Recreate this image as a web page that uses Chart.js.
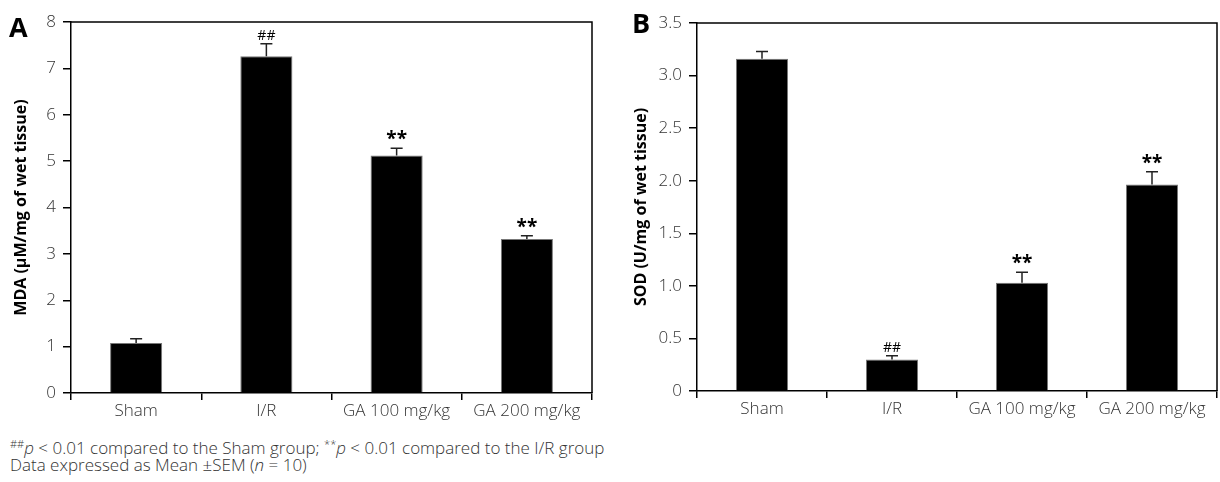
<!DOCTYPE html>
<html>
<head>
<meta charset="utf-8">
<script src="https://cdn.jsdelivr.net/npm/chart.js@4.4.1/dist/chart.umd.min.js"></script>
<style>
  html, body { margin: 0; padding: 0; background: #fff; }
  body { width: 1220px; height: 482px; position: relative; overflow: hidden; font-family: "Open Sans", sans-serif; }
  .panel { position: absolute; top: 0; width: 600px; height: 420px; }
  .tag { position: absolute; font-family: "Open Sans", sans-serif; font-weight: 700; font-size: 27px; line-height: 1; color: #000; }
  .note { position: absolute; left: 10px; top: 439px; font-size: 17px; line-height: 17px; color: #333; font-weight: 300; white-space: nowrap; }
  .note sup { font-size: 11px; vertical-align: 6px; line-height: 0; }
</style>
</head>
<body>
<div class="panel" style="left:0"><canvas id="chartA"></canvas></div>
<div class="panel" style="left:620px"><canvas id="chartB"></canvas></div>
<div class="tag" style="left:9px; top:13px">A</div>
<div class="tag" style="left:632px; top:9px">B</div>
<div class="note">
  <sup>##</sup><i>p</i> &lt; 0.01 compared to the Sham group; <sup>**</sup><i>p</i> &lt; 0.01 compared to the I/R group<br>
  Data expressed as Mean ±SEM (<i>n</i> = 10)
</div>
<script>
// groups on the x axis
const groups = ['Sham', 'I/R', 'GA 100 mg/kg', 'GA 200 mg/kg'];

// panel A: MDA
const mdaMean = [1.08, 7.26, 5.12, 3.32];
const mdaSem  = [0.09, 0.27, 0.16, 0.07];
const mdaMarks = ['', '##', '**', '**'];

// panel B: SOD
const sodMean = [3.16, 0.30, 1.03, 1.965];
const sodSem  = [0.07, 0.035, 0.10, 0.12];
const sodMarks = ['', '##', '**', '**'];

const tickFont = { family: 'Open Sans', size: 17, weight: '300' };

// error bars + significance marks above each bar
const errorBars = {
  id: 'errorBars',
  afterDatasetsDraw(chart, args, opts) {
    const ctx = chart.ctx;
    const y = chart.scales.y;
    const meta = chart.getDatasetMeta(0);
    ctx.save();
    meta.data.forEach((bar, i) => {
      const top = y.getPixelForValue(opts.mean[i]);
      const capY = y.getPixelForValue(opts.mean[i] + opts.sem[i]);
      ctx.strokeStyle = '#222';
      ctx.lineWidth = 1.5;
      ctx.beginPath();
      ctx.moveTo(bar.x, top);
      ctx.lineTo(bar.x, capY);
      ctx.moveTo(bar.x - 6, capY);
      ctx.lineTo(bar.x + 6, capY);
      ctx.stroke();
      const m = opts.marks[i];
      if (m) {
        ctx.fillStyle = '#000';
        ctx.textAlign = 'center';
        ctx.textBaseline = 'alphabetic';
        if (m === '**') {
          ctx.font = 'bold 19px "Open Sans"';
          ctx.fillText(m, bar.x, capY - 3);
        } else {
          ctx.font = '14px "Open Sans"';
          ctx.fillText(m, bar.x, capY - 4);
        }
      }
    });
    ctx.restore();
  }
};

// thin frame round the plot area (top and right sides)
const frame = {
  id: 'frame',
  afterDraw(chart) {
    const a = chart.chartArea, ctx = chart.ctx;
    ctx.save();
    ctx.strokeStyle = '#000';
    ctx.lineWidth = 1.5;
    ctx.beginPath();
    ctx.moveTo(a.left, a.top);
    ctx.lineTo(a.right, a.top);
    ctx.lineTo(a.right, a.bottom);
    ctx.stroke();
    ctx.restore();
  }
};

function makeChart(id, mean, sem, marks, opt) {
  return new Chart(document.getElementById(id), {
    type: 'bar',
    data: {
      labels: groups,
      datasets: [{
        data: mean,
        backgroundColor: '#000',
        borderColor: '#777',
        borderWidth: 1,
        categoryPercentage: 1,
        barPercentage: 0.4
      }]
    },
    options: {
      responsive: false,
      animation: false,
      events: [],
      layout: { padding: { top: opt.top, right: opt.right, left: 0, bottom: 0 } },
      plugins: {
        legend: { display: false },
        tooltip: { enabled: false },
        errorBars: { mean: mean, sem: sem, marks: marks }
      },
      scales: {
        x: {
          grid: { offset: true, drawOnChartArea: false, drawTicks: true, tickLength: 7, color: '#000', lineWidth: 1.5 },
          border: { color: '#000', width: 1.5 },
          ticks: { font: tickFont, color: '#333', padding: 1 },
          afterFit(s) { s.height = opt.xh; }
        },
        y: {
          min: 0, max: opt.max,
          ticks: {
            stepSize: opt.step, font: tickFont, color: '#333', padding: 7,
            callback: opt.fmt
          },
          grid: { drawOnChartArea: false, drawTicks: true, tickLength: 8, color: '#000', lineWidth: 1.5 },
          border: { color: '#000', width: 1.5 },
          title: {
            display: true, text: opt.title, color: '#000',
            font: { family: 'Open Sans', size: 16, weight: 'bold' },
            padding: { top: 12, bottom: 0 }
          },
          afterFit(s) { s.width = opt.yw; }
        }
      }
    },
    plugins: [errorBars, frame]
  });
}

for (const c of document.querySelectorAll('canvas')) { c.width = 600; c.height = 420; }

makeChart('chartA', mdaMean, mdaSem, mdaMarks, {
  top: 22, right: 8, xh: 27, yw: 71, max: 8, step: 1,
  title: 'MDA (μM/mg of wet tissue)',
  fmt: v => String(v)
});

makeChart('chartB', sodMean, sodSem, sodMarks, {
  top: 23, right: 3, xh: 29, yw: 77, max: 3.5, step: 0.5,
  title: 'SOD (U/mg of wet tissue)',
  fmt: v => v === 0 ? '0' : v.toFixed(1)
});
</script>
</body>
</html>
